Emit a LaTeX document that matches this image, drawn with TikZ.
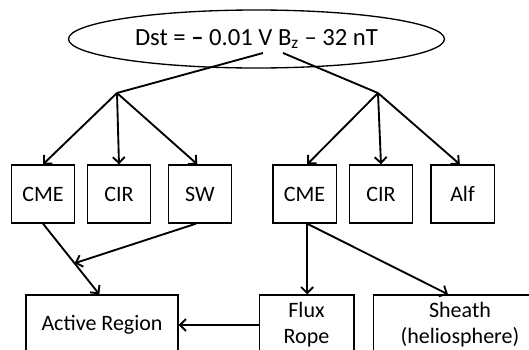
\documentclass[tikz,border=0pt]{standalone}
\usepackage{fontspec}
\setmainfont{Carlito}
\usetikzlibrary{shapes.geometric,calc,arrows.meta}

\tikzset{
  box/.style={draw, line width=1pt, minimum width=47.5pt, minimum height=43.5pt, inner sep=1pt, font=\fontsize{16.5}{19}\selectfont},
  lowbox/.style={draw, line width=1pt, minimum height=45pt, inner sep=1pt, align=center, font=\fontsize{16.5}{19.5}\selectfont},
  arr/.style={-{Straight Barb[length=4.5pt, width=9pt]}, line width=1.4pt},
  lin/.style={line width=1.4pt}
}

\begin{document}
\begin{tikzpicture}[x=0.75pt, y=-0.75pt]
  \useasboundingbox (0,0) rectangle (529,350);
  \clip (0,0) rectangle (529,350);

  % Equation
  \node[draw, ellipse, line width=1pt, minimum width=282pt, minimum height=43.5pt, inner sep=0pt,
        font=\fontsize{18.5}{20}\selectfont] (dst) at (256.5,39)
        {Dst = \textbf{--} 0.01 V B\textsubscript{z} -- 32 nT};
  \coordinate (lft) at (263,53);
  \coordinate (rgt) at (283,53);

  % Branch points
  \coordinate (bl) at (117,93);
  \coordinate (br) at (378,93);

  % First row of boxes
  \node[box] (cmeA) at (43,194) {CME};
  \node[box] (cirA) at (119,194) {CIR};
  \node[box] (sw) at (200,194) {SW};
  \node[box] (cmeB) at (304.5,194) {CME};
  \node[box] (cirB) at (381,194) {CIR};
  \node[box] (alf) at (462.5,194) {Alf};

  % Bottom row of boxes
  \node[lowbox, minimum width=114pt] (ar) at (102,325) {Active Region};
  \node[lowbox, minimum width=71pt] (fr) at (306.5,325) {Flux\\Rope};
  \node[lowbox, minimum width=130pt] (sh) at (460,325) {Sheath\\(heliosphere)};

  % Lines from the equation
  \draw[lin] (lft) -- (bl);
  \draw[lin] (rgt) -- (br);
  \draw[arr] (bl) -- (cmeA.north);
  \draw[arr] (bl) -- (cirA.north);
  \draw[arr] (bl) -- ([xshift=-2pt]sw.north);
  \draw[arr] (br) -- ([xshift=2pt]cmeB.north);
  \draw[arr] (br) -- (cirB.north);
  \draw[arr] (br) -- ([xshift=-2pt]alf.north);

  % Lower arrows
  \draw[arr] (cmeA.south) -- ([xshift=-2pt]ar.north);
  \coordinate (mid) at ($(cmeA.south)!0.56!([xshift=-2pt]ar.north)$);
  \draw[arr] ([xshift=-3pt]sw.south) -- (mid);
  \draw[arr] ([xshift=2pt]cmeB.south) -- ([xshift=0.5pt]fr.north);
  \draw[arr] ([xshift=2pt]cmeB.south) -- ([xshift=-9pt]sh.north);
  \draw[arr] (fr.west) -- (ar.east);
\end{tikzpicture}
\end{document}
